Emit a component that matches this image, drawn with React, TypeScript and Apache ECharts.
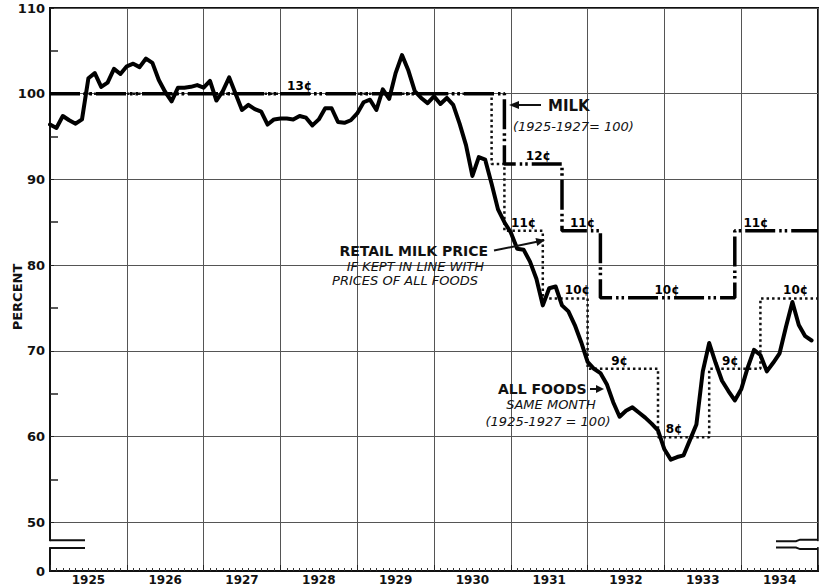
import React, { useEffect, useRef } from 'react';
import * as echarts from 'echarts';

// ---- data ----
const years = ['1925', '1926', '1927', '1928', '1929', '1930', '1931', '1932', '1933', '1934'];
// label positions: middle of each year, in months since Jan 1925
const yearCenters = [6, 18, 30, 42, 54, 66, 78, 90, 102, 114];

// All foods, same month (1925-1927 = 100), monthly from Jan 1925
const foodsIndex = [
  96.4, 96.0, 97.4, 96.9, 96.5, 97.0, 101.8, 102.4, 100.8, 101.3, 102.9, 102.3,
  103.2, 103.5, 103.1, 104.1, 103.6, 101.6, 100.2, 99.1, 100.7, 100.7, 100.8, 101.0,
  100.7, 101.5, 99.2, 100.3, 101.9, 100.0, 98.1, 98.7, 98.2, 97.9, 96.4, 97.0,
  97.1, 97.1, 97.0, 97.4, 97.2, 96.3, 97.0, 98.3, 98.3, 96.7, 96.6, 96.9,
  97.7, 99.0, 99.3, 98.1, 100.5, 99.4, 102.4, 104.5, 102.7, 100.3, 99.5, 98.9,
  99.7, 98.8, 99.5, 98.7, 96.5, 94.0, 90.4, 92.6, 92.3, 89.5, 86.5, 85.0,
  83.8, 81.9, 81.8, 80.4, 78.4, 75.3, 77.3, 77.5, 75.3, 74.6, 73.0, 71.0,
  68.7, 67.9, 67.4, 66.1, 64.0, 62.3, 63.0, 63.4, 62.8, 62.2, 61.5, 60.7,
  58.5, 57.3, 57.6, 57.8, 59.6, 61.4, 67.6, 70.9, 68.6, 66.5, 65.3, 64.2,
  65.5, 68.0, 70.1, 69.5, 67.6, 68.6, 69.7, 72.8, 75.7, 73.0, 71.7, 71.2,
];

// Milk (1925-1927 = 100): month where each price begins, and its index level
const milkChangeMonths = [0, 71, 80, 86, 107, 120];
const milkLevels = [100, 91.8, 84.0, 76.2, 84.0, 84.0];

// Retail milk price if kept in line with prices of all foods
const parityChangeMonths = [0, 69, 71, 77, 84, 95, 103, 111, 120];
const parityLevels = [100, 91.8, 84.0, 76.1, 67.9, 59.9, 67.9, 76.1, 76.1];

// price labels (cents) on the steps
const centLabelText = ['13¢', '12¢', '11¢', '11¢', '10¢', '10¢', '9¢', '8¢', '9¢', '11¢', '10¢'];
const centLabelMonth = [39, 76.3, 74, 83.2, 82.4, 96.4, 89, 97.5, 106.3, 110.3, 116.5];
const centLabelLevel = [100, 91.8, 84.0, 84.0, 76.1, 76.2, 67.9, 59.9, 67.9, 84.0, 76.1];

// y axis
const yTickLabels = [0, 50, 60, 70, 80, 90, 100, 110];
const yMinorTicks = [55, 65, 75, 85, 95, 105];

const FONT = '"DejaVu Sans", "Liberation Sans", sans-serif';

export default function App() {
  const ref = useRef<HTMLDivElement>(null);

  useEffect(() => {
    const chart = echarts.init(ref.current!, null, { renderer: 'svg' });
    const Y_MIN = 44.3; // bottom of the broken axis (labelled 0)
    const gridValues = yTickLabels.filter((v) => v >= 50);
    const labelValues = yTickLabels.map((v) => (v === 0 ? Y_MIN : v));

    const foods = foodsIndex.map((v, i) => [i, v]);
    const milk = milkChangeMonths.map((m, i) => [m, milkLevels[i]]);
    const parity = parityChangeMonths.map((m, i) => [m, parityLevels[i]]);
    const cents = centLabelText.map((t, i) => ({ name: t, value: [centLabelMonth[i], centLabelLevel[i]] }));

    chart.setOption({
      animation: false,
      backgroundColor: '#ffffff',
      textStyle: { fontFamily: FONT },
      grid: { left: 50, right: 1, top: 8, bottom: 12, show: true, borderColor: '#111', borderWidth: 2 },
      xAxis: {
        type: 'value',
        min: 0,
        max: 120,
        interval: 12,
        axisLine: { show: true, onZero: false, lineStyle: { color: '#111', width: 2 } },
        axisTick: { show: true, inside: true, length: 6, lineStyle: { color: '#222', width: 1 } },
        minorTick: { show: true, splitNumber: 12, length: 3, lineStyle: { color: '#333', width: 1 } },
        splitLine: { show: true, lineStyle: { color: '#555', width: 1 } },
        axisLabel: {
          customValues: yearCenters,
          formatter: (v: number) => {
            const i = yearCenters.indexOf(Math.round(v));
            return i >= 0 ? years[i] : '';
          },
          fontSize: 12,
          fontWeight: 'bold',
          fontFamily: FONT,
          color: '#111',
          margin: 3,
        },
      },
      yAxis: [
        {
          type: 'value',
          min: Y_MIN,
          max: 110,
          axisLine: { show: true, onZero: false, lineStyle: { color: '#111', width: 2 } },
          axisTick: { show: true, inside: true, length: 4, customValues: gridValues, lineStyle: { color: '#222' } },
          axisLabel: {
            customValues: labelValues,
            formatter: (v: number) => (v < 45 ? '0' : String(Math.round(v))),
            fontSize: 13,
            fontWeight: 'bold',
            fontFamily: FONT,
            color: '#111',
            margin: 5,
          },
          splitLine: { show: true, lineStyle: { color: '#555', width: 1 } },
        },
        {
          type: 'value',
          min: Y_MIN,
          max: 110,
          position: 'left',
          axisLine: { show: false },
          axisLabel: { show: false },
          splitLine: { show: false },
          axisTick: { show: true, inside: true, length: 8, customValues: yMinorTicks, lineStyle: { color: '#222', width: 1.5 } },
        },
      ],
      series: [
        {
          name: 'Retail milk price if kept in line with prices of all foods',
          type: 'line',
          step: 'end',
          data: parity,
          symbol: 'none',
          z: 2,
          lineStyle: { color: '#111', width: 2.5, type: [2.5, 3] },
        },
        {
          name: 'Milk',
          type: 'line',
          step: 'end',
          data: milk,
          symbol: 'none',
          z: 3,
          lineStyle: { color: '#000', width: 3.5, type: [30, 4, 2.5, 3, 2.5, 4] },
        },
        {
          name: 'All foods',
          type: 'line',
          data: foods,
          symbol: 'none',
          z: 4,
          lineStyle: { color: '#000', width: 4, cap: 'round', join: 'round' },
        },
        {
          name: 'cents',
          type: 'scatter',
          data: cents,
          symbolSize: 0,
          itemStyle: { color: '#000', opacity: 1 },
          z: 5,
          label: {
            show: true,
            position: 'top',
            distance: 2,
            formatter: '{b}',
            fontSize: 12,
            fontWeight: 'bold',
            fontFamily: FONT,
            color: '#000',
            opacity: 1,
          },
        },
      ],
    });

    // decorations: axis break marks, annotations, arrows
    const px = (m: number) => chart.convertToPixel({ xAxisIndex: 0 }, m) as number;
    const py = (v: number) => chart.convertToPixel({ yAxisIndex: 0 }, v) as number;
    const xL = px(0);
    const xR = px(120);
    const yT = py(47.9);
    const yB = py(46.97);
    const black = '#111';
    const txt = (x: number, y: number, text: string, size: number, weight: string, style: string, align: string, extra: any = {}) => ({
      type: 'text',
      x,
      y,
      z: 100,
      ...extra,
      style: {
        text,
        fontSize: size,
        fontWeight: weight,
        fontStyle: style,
        fontFamily: FONT,
        fill: black,
        align,
        verticalAlign: 'middle',
      },
    });
    const line = (x1: number, y1: number, x2: number, y2: number, w = 2) => ({
      type: 'line',
      z: 100,
      shape: { x1, y1, x2, y2 },
      style: { stroke: black, lineWidth: w },
    });
    const head = (pts: number[][]) => ({ type: 'polygon', z: 100, shape: { points: pts }, style: { fill: black } });

    chart.setOption({
      graphic: [
        // left break
        { type: 'rect', z: 99, shape: { x: xL - 4, y: yT + 1, width: 8, height: yB - yT - 2 }, style: { fill: '#fff' } },
        { type: 'polyline', z: 100, shape: { points: [[xL, yT], [xL + 35, yT]] }, style: { stroke: black, lineWidth: 2 } },
        { type: 'polyline', z: 100, shape: { points: [[xL, yB], [xL + 35, yB]] }, style: { stroke: black, lineWidth: 2 } },
        // right break
        { type: 'rect', z: 99, shape: { x: xR - 4, y: yT + 1, width: 8, height: yB - yT - 2 }, style: { fill: '#fff' } },
        { type: 'polyline', z: 100, shape: { points: [[xR - 42, yT + 1], [xR - 22, yT + 1], [xR - 18, yT - 0.5], [xR, yT - 0.5]] }, style: { stroke: black, lineWidth: 2 } },
        { type: 'polyline', z: 100, shape: { points: [[xR - 42, yB - 0.5], [xR - 22, yB - 0.5], [xR - 18, yB + 1], [xR, yB + 1]] }, style: { stroke: black, lineWidth: 2 } },
        // axis title
        txt(17, 297, 'PERCENT', 13, 'bold', 'normal', 'center', { rotation: Math.PI / 2 }),
        // milk annotation
        txt(548, 106, 'MILK', 15, 'bold', 'normal', 'left'),
        line(541, 105, 516, 105, 2),
        head([[509, 105], [519, 101], [519, 109]]),
        txt(513, 126, '(1925-1927= 100)', 13, 'normal', 'italic', 'left'),
        // retail milk price annotation
        txt(488, 251, 'RETAIL MILK PRICE', 14, 'bold', 'normal', 'right'),
        txt(484, 266, 'IF KEPT IN LINE WITH', 13, 'normal', 'italic', 'right'),
        txt(478, 280, 'PRICES OF ALL FOODS', 13, 'normal', 'italic', 'right'),
        line(494, 250.5, 537, 241.8, 2),
        head([[545, 240], [535.5, 238], [537.2, 246]]),
        // all foods annotation
        txt(498, 389, 'ALL FOODS', 14, 'bold', 'normal', 'left'),
        line(590, 389, 597, 389, 2),
        head([[604, 389], [596, 385], [596, 393]]),
        txt(551, 404, 'SAME MONTH', 13, 'normal', 'italic', 'center'),
        txt(548, 421, '(1925-1927 = 100)', 13, 'normal', 'italic', 'center'),
      ],
    });

    return () => chart.dispose();
  }, []);

  return (
    <div
      ref={ref}
      style={{ position: 'fixed', left: 0, top: 0, width: 819, height: 586, background: '#fff' }}
    />
  );
}
